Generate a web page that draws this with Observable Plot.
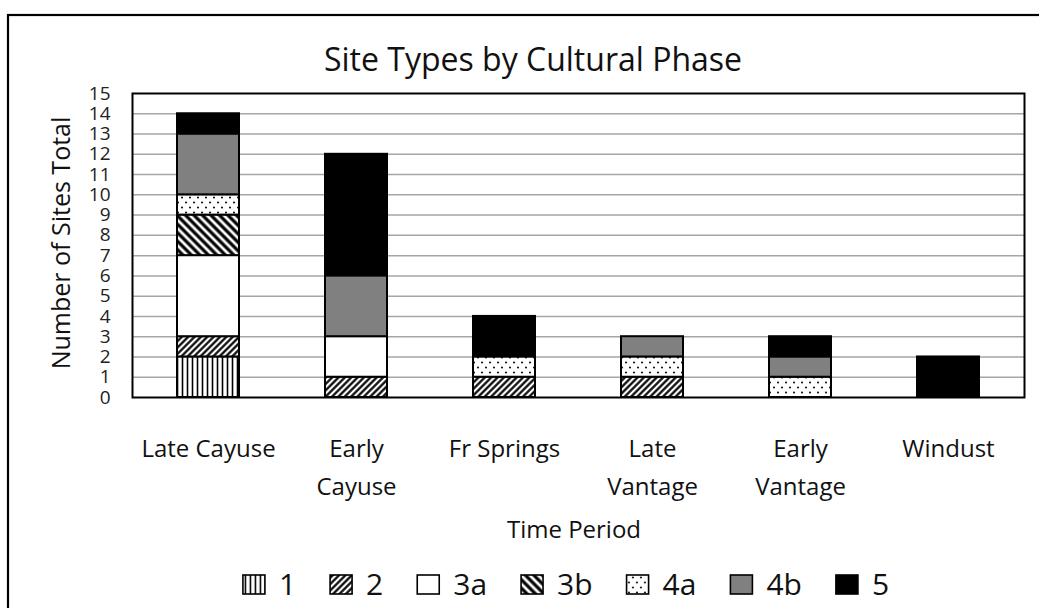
<!DOCTYPE html>
<html>
<head>
<meta charset="utf-8">
<script src="https://cdn.jsdelivr.net/npm/d3@7"></script>
<script src="https://cdn.jsdelivr.net/npm/@observablehq/plot@0.6"></script>
<style>
  html, body { margin: 0; padding: 0; background: white; }
  svg { display: block; }
</style>
</head>
<body>
<script>
// ---- data ----
const categories = ["Late Cayuse", "Early Cayuse", "Fr Springs", "Late Vantage", "Early Vantage", "Windust"];
const tickLabels = ["Late Cayuse", "Early\nCayuse", "Fr Springs", "Late\nVantage", "Early\nVantage", "Windust"];
const siteTypes = ["1", "2", "3a", "3b", "4a", "4b", "5"];
const type1  = [2, 0, 0, 0, 0, 0];
const type2  = [1, 1, 1, 1, 0, 0];
const type3a = [4, 2, 0, 0, 0, 0];
const type3b = [2, 0, 0, 0, 0, 0];
const type4a = [1, 0, 1, 1, 1, 0];
const type4b = [3, 3, 0, 1, 1, 0];
const type5  = [1, 6, 2, 0, 1, 2];
const yTicks = [0, 1, 2, 3, 4, 5, 6, 7, 8, 9, 10, 11, 12, 13, 14, 15];
const titleText = "Site Types by Cultural Phase";
const yTitle = "Number of Sites Total";
const xTitle = "Time Period";

const series = [type1, type2, type3a, type3b, type4a, type4b, type5];
const fills = ["url(#p1)", "url(#p2)", "white", "url(#p3b)", "url(#p4a)", "#808080", "black"];

const data = [];
categories.forEach((c, i) => siteTypes.forEach((t, j) => {
  const v = series[j][i];
  if (v > 0) data.push({period: c, type: t, count: v});
}));

const FONT = "'Open Sans', 'Noto Sans', sans-serif";

const chart = Plot.plot({
  width: 1039,
  height: 608,
  marginLeft: 132,
  marginRight: 15,
  marginTop: 93,
  marginBottom: 211,
  style: {fontFamily: FONT, background: "white", color: "black", overflow: "visible"},
  x: {domain: categories, paddingInner: 0.58, paddingOuter: 0.29, label: null},
  y: {domain: [0, 15], label: null},
  color: {type: "ordinal", domain: siteTypes, range: fills},
  marks: [
    Plot.gridY(yTicks.filter(d => d > 0 && d < 15), {stroke: "#a6a6a6", strokeOpacity: 1, strokeWidth: 1.5}),
    Plot.barY(data, {x: "period", y: "count", fill: "type", stroke: "black", strokeWidth: 2}),
    Plot.frame({stroke: "black", strokeWidth: 2}),
    Plot.axisY(yTicks, {tickSize: 0, tickPadding: 22, fontSize: 19, label: null, fill: "#222"}),
    Plot.axisX({tickSize: 0, tickPadding: 33, fontSize: 24, lineHeight: 1.58, label: null, fill: "#111",
      tickFormat: d => tickLabels[categories.indexOf(d)]})
  ]
});

document.body.appendChild(chart);
const svg = d3.select(chart);

// pattern defs
const defs = svg.insert("defs", ":first-child");
const p1 = defs.append("pattern").attr("id", "p1").attr("patternUnits", "userSpaceOnUse")
  .attr("width", 5).attr("height", 10);
p1.append("rect").attr("width", 5).attr("height", 10).attr("fill", "white");
p1.append("line").attr("x1", 2.5).attr("x2", 2.5).attr("y1", 0).attr("y2", 10).attr("stroke", "black").attr("stroke-width", 1.6);

const p2 = defs.append("pattern").attr("id", "p2").attr("patternUnits", "userSpaceOnUse")
  .attr("width", 4.5).attr("height", 10).attr("patternTransform", "rotate(45)");
p2.append("rect").attr("width", 4.5).attr("height", 10).attr("fill", "white");
p2.append("line").attr("x1", 2.25).attr("x2", 2.25).attr("y1", 0).attr("y2", 10).attr("stroke", "black").attr("stroke-width", 2.2);

const p3 = defs.append("pattern").attr("id", "p3b").attr("patternUnits", "userSpaceOnUse")
  .attr("width", 6).attr("height", 10).attr("patternTransform", "rotate(-45)");
p3.append("rect").attr("width", 6).attr("height", 10).attr("fill", "white");
p3.append("line").attr("x1", 3).attr("x2", 3).attr("y1", 0).attr("y2", 10).attr("stroke", "black").attr("stroke-width", 3.2);

const p4 = defs.append("pattern").attr("id", "p4a").attr("patternUnits", "userSpaceOnUse")
  .attr("width", 16).attr("height", 10);
p4.append("rect").attr("width", 16).attr("height", 10).attr("fill", "white");
[[2, 2.5], [10, 2.5], [6, 7.5], [14, 7.5]].forEach(([cx, cy]) =>
  p4.append("circle").attr("cx", cx).attr("cy", cy).attr("r", 1).attr("fill", "black"));

// outer border
svg.append("rect").attr("x", 8).attr("y", 15).attr("width", 1100).attr("height", 700)
  .attr("fill", "none").attr("stroke", "black").attr("stroke-width", 2.2);

// title
svg.append("text").attr("x", 533).attr("y", 71).attr("text-anchor", "middle")
  .attr("font-family", FONT).attr("font-size", 32).attr("fill", "#111").text(titleText);

// y axis title
svg.append("text").attr("transform", "translate(70,243) rotate(-90)").attr("text-anchor", "middle")
  .attr("font-family", FONT).attr("font-size", 25).attr("fill", "#111").text(yTitle);

// x axis title
svg.append("text").attr("x", 574).attr("y", 538).attr("text-anchor", "middle")
  .attr("font-family", FONT).attr("font-size", 24).attr("fill", "#111").text(xTitle);

// legend
const legend = svg.append("g").attr("font-family", FONT).attr("font-size", 30).attr("fill", "#111")
  .attr("text-anchor", "start");
let x = 0;
siteTypes.forEach((t, i) => {
  const g = legend.append("g");
  g.append("rect").attr("x", x).attr("y", 575).attr("width", 22).attr("height", 19)
    .attr("fill", fills[i]).attr("stroke", "black").attr("stroke-width", 1.6);
  const tx = g.append("text").attr("x", x + 36).attr("y", 595).attr("text-anchor", "start").text(t);
  const w = tx.node().getComputedTextLength();
  x += 36 + w + 34;
});
const total = x - 34;
legend.attr("transform", `translate(${566 - total / 2},0)`);
</script>
</body>
</html>
